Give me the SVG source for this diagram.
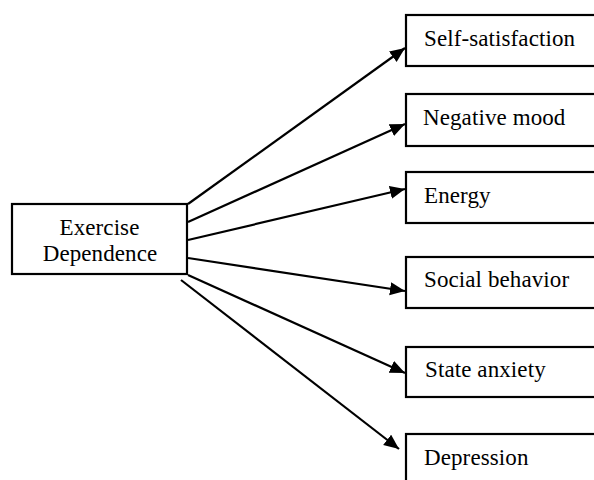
<svg xmlns="http://www.w3.org/2000/svg" width="594" height="480" viewBox="0 0 594 480">
<style>
.box{fill:#fff;stroke:#000;stroke-width:2.2}
.t{font-family:"Liberation Serif","Times New Roman",serif;font-size:23px;letter-spacing:0.1px;fill:#000}
.c{stroke:#000;stroke-width:2.2;fill:none;marker-end:url(#ah)}
</style>
<defs>
<marker id="ah" markerUnits="userSpaceOnUse" markerWidth="18" markerHeight="14" refX="15" refY="6.5" orient="auto">
<path d="M0,0 L15,6.5 L0,13 z" fill="#000"/>
</marker>
</defs>
<rect width="594" height="480" fill="#fff"/>
<g id="connectors">
<line class="c" x1="188" y1="204" x2="405" y2="48"/>
<line class="c" x1="188" y1="222" x2="405" y2="124"/>
<line class="c" x1="188" y1="240" x2="405" y2="189"/>
<line class="c" x1="188" y1="258" x2="405" y2="291"/>
<line class="c" x1="188" y1="275" x2="405" y2="373"/>
<line class="c" x1="181" y1="280" x2="399" y2="449"/>
</g>
<g id="exercise-dependence">
<rect class="box" x="12" y="204" width="175" height="70"/>
<text class="t" x="99.5" y="235" text-anchor="middle">Exercise</text>
<text class="t" x="100" y="261" text-anchor="middle">Dependence</text>
</g>
<g id="self-satisfaction">
<rect class="box" x="406" y="15" width="200" height="51"/>
<text class="t" x="424" y="46">Self-satisfaction</text>
</g>
<g id="negative-mood">
<rect class="box" x="406" y="94" width="200" height="52"/>
<text class="t" x="423" y="125">Negative mood</text>
</g>
<g id="energy">
<rect class="box" x="406" y="172" width="200" height="51"/>
<text class="t" x="424" y="203">Energy</text>
</g>
<g id="social-behavior">
<rect class="box" x="406" y="257" width="200" height="51"/>
<text class="t" x="424" y="287">Social behavior</text>
</g>
<g id="state-anxiety">
<rect class="box" x="406" y="347" width="200" height="50"/>
<text class="t" x="425" y="377">State anxiety</text>
</g>
<g id="depression">
<rect class="box" x="406" y="434" width="200" height="60"/>
<text class="t" x="424" y="465">Depression</text>
</g>
</svg>
